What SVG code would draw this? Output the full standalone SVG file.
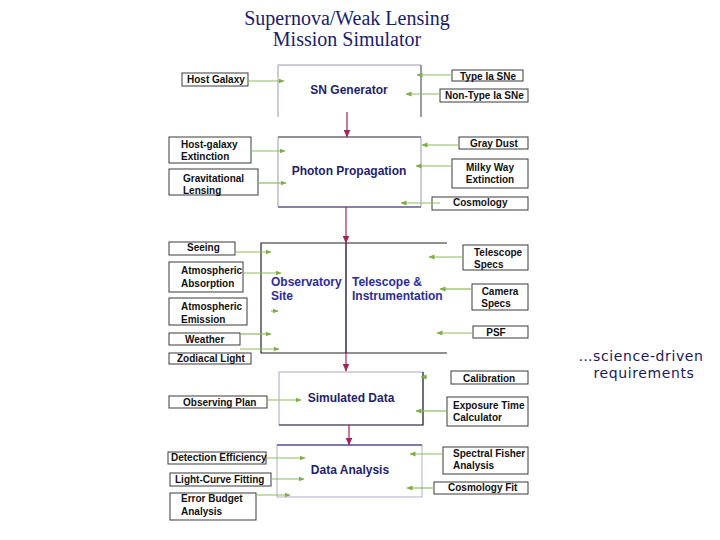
<svg xmlns="http://www.w3.org/2000/svg" width="720" height="540" viewBox="0 0 720 540">
<defs>
<marker id="ag" viewBox="0 0 6 6" refX="5.5" refY="3" markerWidth="6" markerHeight="6" markerUnits="userSpaceOnUse" orient="auto"><path d="M0,0.5 L6,3 L0,5.5 Z" fill="#7fae48"/></marker>
<marker id="ar" viewBox="0 0 8 8" refX="7.5" refY="4" markerWidth="8" markerHeight="8" markerUnits="userSpaceOnUse" orient="auto"><path d="M0,0.5 L8,4 L0,7.5 Z" fill="#a3245c"/></marker>
<style>
.title{font-family:"Liberation Serif","Times New Roman",serif;font-size:20px;fill:#1a2070;text-anchor:middle}
.note{font-family:"DejaVu Sans",Verdana,sans-serif;font-size:14px;fill:#1a1a5e;text-anchor:middle;letter-spacing:0.6px}
.sb{fill:#fff;stroke:#3a3a3a;stroke-width:1}
.st{font-family:"Liberation Sans",Arial,sans-serif;font-size:10px;font-weight:bold;fill:#111}
.mt{font-family:"Liberation Sans",Arial,sans-serif;font-size:12px;font-weight:bold;fill:#1e1e6e}
.bt{font-family:"Liberation Sans",Arial,sans-serif;font-size:12px;font-weight:bold;fill:#2c2c9c}
.mb{fill:none;stroke:#9a9ab4;stroke-width:1}
.g{stroke:#8dbb5c;stroke-width:1.2;fill:none;marker-end:url(#ag)}
.r{stroke:#a3245c;stroke-width:1.2;fill:none;marker-end:url(#ar)}
</style>
</defs>
<rect width="720" height="540" fill="#fff"/>
<text class="title" x="347" y="25">Supernova/Weak Lensing</text>
<text class="title" x="347" y="46">Mission Simulator</text>
<text class="note" x="641" y="361">…science-driven</text>
<text class="note" x="644" y="378">requirements</text>

<g id="sn-generator">
<path class="mb" d="M278,117 V65 H421 V117"/>
<path d="M421,65 V117" stroke="#667" stroke-width="1"/>
<text class="mt" x="349" y="94" text-anchor="middle">SN Generator</text>
</g>
<g id="photon-propagation">
<path class="mb" d="M278,207 V137 H421 V207"/>
<path d="M278,137 H421" stroke="#555" stroke-width="1"/>
<path d="M278,207 H421" stroke="#8a80b0" stroke-width="2"/>
<text class="mt" x="349" y="175" text-anchor="middle">Photon Propagation</text>
</g>
<g id="observatory">
<path d="M447,243 H261 V353 H447" fill="none" stroke="#222" stroke-width="1.2"/>
<path d="M346,243 V353" stroke="#2a1a4a" stroke-width="1.4"/>
<text class="bt" x="271" y="286">Observatory</text>
<text class="bt" x="271" y="300">Site</text>
<text class="bt" x="352" y="286">Telescope &amp;</text>
<text class="bt" x="352" y="300">Instrumentation</text>
</g>
<g id="simulated-data">
<rect x="279" y="372" width="144" height="53" fill="none" stroke="#aaa8c8" stroke-width="1"/>
<path d="M423,372 V425 H279" fill="none" stroke="#2a2a44" stroke-width="1.2"/>
<text class="mt" x="351" y="402" text-anchor="middle">Simulated Data</text>
</g>
<g id="data-analysis">
<rect x="277" y="445" width="145" height="52" fill="none" stroke="#b0b0c4" stroke-width="1"/>
<path d="M277,445 H422" stroke="#7f78ae" stroke-width="2.2"/>
<text class="mt" x="350" y="474" text-anchor="middle">Data Analysis</text>
</g>

<g id="host-galaxy"><rect class="sb" x="182" y="73" width="66" height="13"/><text class="st" x="187" y="83">Host Galaxy</text></g>
<g id="host-galaxy-extinction"><rect class="sb" x="169" y="137" width="82" height="26"/><text class="st" x="181" y="148">Host-galaxy</text><text class="st" x="181" y="160">Extinction</text></g>
<g id="gravitational-lensing"><rect class="sb" x="169" y="169" width="89" height="26"/><text class="st" x="183" y="182">Gravitational</text><text class="st" x="183" y="194">Lensing</text></g>
<g id="seeing"><rect class="sb" x="169" y="242" width="66" height="13"/><text class="st" x="187" y="251">Seeing</text></g>
<g id="atmospheric-absorption"><rect class="sb" x="169" y="262" width="74" height="30"/><text class="st" x="181" y="274">Atmospheric</text><text class="st" x="181" y="287">Absorption</text></g>
<g id="atmospheric-emission"><rect class="sb" x="169" y="298" width="78" height="27"/><text class="st" x="181" y="310">Atmospheric</text><text class="st" x="181" y="323">Emission</text></g>
<g id="weather"><rect class="sb" x="169" y="333" width="71" height="12"/><text class="st" x="185" y="343">Weather</text></g>
<g id="zodiacal-light"><rect class="sb" x="169" y="353" width="82" height="11"/><text class="st" x="177" y="362">Zodiacal Light</text></g>
<g id="observing-plan"><rect class="sb" x="169" y="396" width="98" height="12"/><text class="st" x="183" y="406">Observing Plan</text></g>
<g id="detection-efficiency"><rect class="sb" x="168" y="452" width="98" height="12"/><text class="st" x="171" y="461">Detection Efficiency</text></g>
<g id="light-curve-fitting"><rect class="sb" x="170" y="473" width="101" height="13"/><text class="st" x="175" y="483">Light-Curve Fitting</text></g>
<g id="error-budget-analysis"><rect class="sb" x="170" y="493" width="86" height="27"/><text class="st" x="181" y="502">Error Budget</text><text class="st" x="181" y="515">Analysis</text></g>

<g id="type-ia-sne"><rect class="sb" x="452" y="70" width="71" height="11"/><text class="st" x="460" y="80">Type Ia SNe</text></g>
<g id="non-type-ia-sne"><rect class="sb" x="440" y="89" width="88" height="13"/><text class="st" x="445" y="99">Non-Type Ia SNe</text></g>
<g id="gray-dust"><rect class="sb" x="459" y="137" width="69" height="12"/><text class="st" x="470" y="147">Gray Dust</text></g>
<g id="milky-way-extinction"><rect class="sb" x="452" y="159" width="76" height="29"/><text class="st" x="490" y="171" text-anchor="middle">Milky Way</text><text class="st" x="490" y="183" text-anchor="middle">Extinction</text></g>
<g id="cosmology"><rect class="sb" x="432" y="197" width="96" height="13"/><text class="st" x="453" y="206">Cosmology</text></g>
<g id="telescope-specs"><rect class="sb" x="463" y="245" width="65" height="25"/><text class="st" x="474" y="256">Telescope</text><text class="st" x="474" y="268">Specs</text></g>
<g id="camera-specs"><rect class="sb" x="472" y="284" width="56" height="26"/><text class="st" x="500" y="295" text-anchor="middle">Camera</text><text class="st" x="496" y="307" text-anchor="middle">Specs</text></g>
<g id="psf"><rect class="sb" x="473" y="326" width="55" height="12"/><text class="st" x="496" y="336" text-anchor="middle">PSF</text></g>
<g id="calibration"><rect class="sb" x="451" y="371" width="77" height="13"/><text class="st" x="463" y="382">Calibration</text></g>
<g id="exposure-time-calculator"><rect class="sb" x="447" y="397" width="81" height="29"/><text class="st" x="453" y="409">Exposure Time</text><text class="st" x="453" y="421">Calculator</text></g>
<g id="spectral-fisher-analysis"><rect class="sb" x="443" y="447" width="85" height="27"/><text class="st" x="453" y="457">Spectral Fisher</text><text class="st" x="453" y="469">Analysis</text></g>
<g id="cosmology-fit"><rect class="sb" x="434" y="482" width="94" height="12"/><text class="st" x="448" y="491">Cosmology Fit</text></g>

<g id="connectors">
<path class="r" d="M347,112 V137"/>
<path class="r" d="M346,207 V243"/>
<path class="r" d="M346,353 V371"/>
<path class="r" d="M349,425 V445"/>
<path class="g" d="M248,81 H284"/>
<path class="g" d="M251,151 H285"/>
<path class="g" d="M258,183 H286"/>
<path class="g" d="M235,252 H271"/>
<path class="g" d="M243,273 H281"/>
<path class="g" d="M271,311 H278"/>
<path class="g" d="M240,334 H271"/>
<path class="g" d="M240,349 H279"/>
<path class="g" d="M267,400 H301"/>
<path class="g" d="M266,458 H305"/>
<path class="g" d="M271,479 H304"/>
<path class="g" d="M256,495 H290"/>
<path class="g" d="M452,75 H417"/>
<path class="g" d="M440,94 H406"/>
<path class="g" d="M459,145 H422"/>
<path class="g" d="M452,166 H416"/>
<path class="g" d="M440,203 H401"/>
<path class="g" d="M463,257 H429"/>
<path class="g" d="M472,289 H440"/>
<path class="g" d="M473,333 H437"/>
<path class="g" d="M427,377 H421"/>
<path class="g" d="M447,411 H416"/>
<path class="g" d="M443,454 H410"/>
<path class="g" d="M434,488 H407"/>
</g>
</svg>
